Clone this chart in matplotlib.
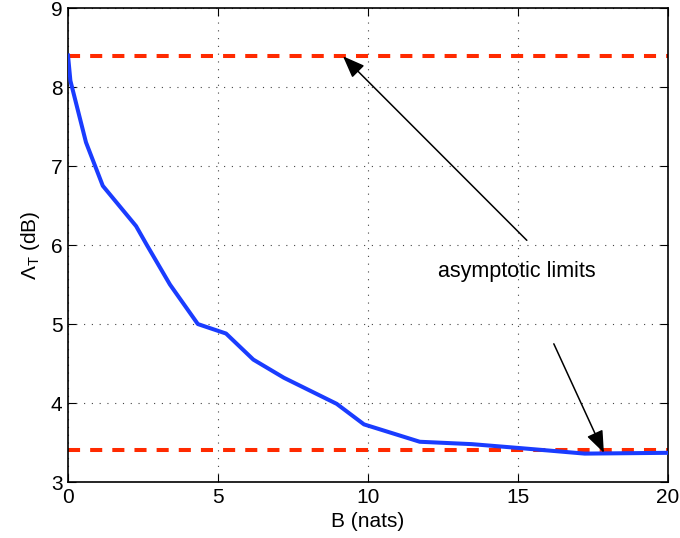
import matplotlib
matplotlib.use('Agg')
import matplotlib.pyplot as plt
import numpy as np

plt.rcParams['font.family'] = ['Liberation Sans', 'DejaVu Sans']
plt.rcParams['mathtext.fontset'] = 'custom'
plt.rcParams['mathtext.rm'] = 'Liberation Sans'
plt.rcParams['mathtext.it'] = 'Liberation Sans:italic'

# threshold vs. bit budget
B = [0.0, 0.08, 0.6, 1.16, 2.27, 2.63, 3.4, 4.33, 5.27, 6.18, 7.2, 8.96, 9.87,
     11.73, 13.46, 15.07, 17.23, 20.0]
lam = [8.40, 8.08, 7.30, 6.75, 6.24, 6.0, 5.5, 5.0, 4.88, 4.55, 4.32, 3.99, 3.73,
       3.51, 3.48, 3.43, 3.36, 3.37]

upper_limit = 8.39
lower_limit = 3.40

fs = 15

fig = plt.figure(figsize=(6.8, 5.38), dpi=100)
ax = fig.add_axes([0.1, 0.104, 0.882, 0.881])

ax.plot(B, lam, color='#1a3cff', lw=2.9, zorder=3)
ax.axhline(upper_limit, color='#ff2a00', lw=2.9, ls=(0, (3, 2.5)), zorder=2)
ax.axhline(lower_limit, color='#ff2a00', lw=2.9, ls=(0, (3, 2.5)), zorder=2)

ax.set_xlim(0, 20)
ax.set_ylim(3, 9)
ax.set_xticks(np.arange(0, 21, 5))
ax.set_yticks(np.arange(3, 10, 1))
ax.grid(True, color='#444444', ls=(0, (1, 6)), lw=0.8)
ax.tick_params(direction='in', labelsize=fs, length=6, top=True, right=True, pad=4)
for s in ax.spines.values():
    s.set_linewidth(1.2)

ax.set_xlabel('B (nats)', fontsize=fs, labelpad=4)
ax.set_ylabel(r'$\Lambda_{\mathrm{T}}$ (dB)', fontsize=fs, labelpad=6)

ax.text(14.95, 5.66, 'asymptotic limits', fontsize=15.5, ha='center', va='center')
arrow = dict(arrowstyle='-|>,head_length=0.9,head_width=0.35', color='black',
             lw=1.1, shrinkA=0, shrinkB=0, mutation_scale=15)
ax.annotate('', xy=(9.17, upper_limit), xytext=(15.3, 6.06), arrowprops=arrow)
ax.annotate('', xy=(17.87, lower_limit - 0.03), xytext=(16.2, 4.75), arrowprops=arrow)

fig.savefig('out.png', dpi=100)
